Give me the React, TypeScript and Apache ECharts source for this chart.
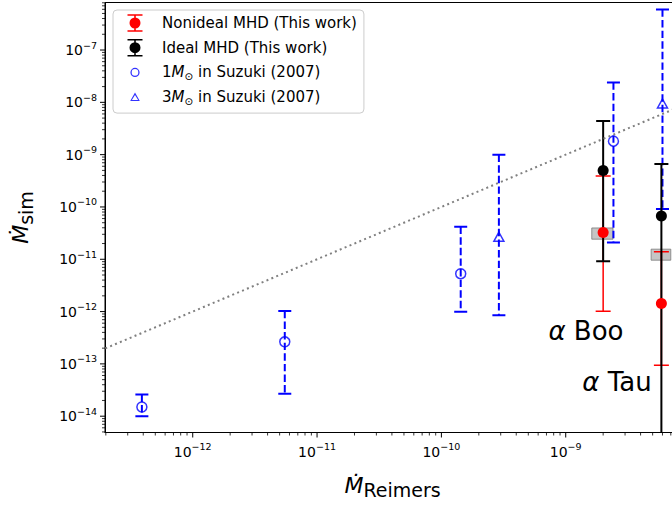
import React, { useEffect, useRef } from 'react';
import * as echarts from 'echarts';

const FONT = '"DejaVu Sans", sans-serif';

// axis ranges
const X_RANGE = [1.97e-13, 8.3e-9];
const Y_RANGE = [4.88e-15, 8.1e-7];

// Suzuki (2007), 1 Msun
const suzuki1X = [3.9e-13, 5.5e-12, 1.43e-10, 2.42e-9];
const suzuki1Y = [1.5e-14, 2.64e-13, 5.3e-12, 1.81e-9];
const suzuki1Lo = [1.0e-14, 2.7e-14, 9.9e-13, 2.1e-11];
const suzuki1Hi = [2.6e-14, 1.03e-12, 4.2e-11, 2.4e-8];

// Suzuki (2007), 3 Msun
const suzuki3X = [2.9e-10, 6.0e-9];
const suzuki3Y = [2.7e-11, 9.5e-9];
const suzuki3Lo = [8.5e-13, 9.1e-11];
const suzuki3Hi = [1.0e-9, 5.97e-7];

// This work
const starNames = ['Boo', 'Tau'];
const starX = [2.0e-9, 5.88e-9];
const idealY = [5.0e-10, 6.7e-11];
const idealLo = [9.2e-12, 1e-16];
const idealHi = [4.4e-9, 6.6e-10];
const nonidealY = [3.25e-11, 1.43e-12];
const nonidealLo = [1.02e-12, 9.4e-14];
const nonidealHi = [3.9e-10, 1.39e-11];

// grey boxes
const boxX0 = [1.62e-9, 4.86e-9];
const boxX1 = [2.4e-9, 7.0e-9];
const boxY0 = [2.42e-11, 9.6e-12];
const boxY1 = [3.97e-11, 1.56e-11];

// star label anchors (left, middle)
const labelX = [7.26e-10, 1.36e-9];
const labelY = [4.23e-13, 4.57e-14];

// 1:1 line
const oneToOne = [1e-14, 1e-6];

const N_NON = 'Nonideal MHD (This work)';
const N_IDEAL = 'Ideal MHD (This work)';
const N_S1 = '1Msun in Suzuki (2007)';
const N_S3 = '3Msun in Suzuki (2007)';

const LEGEND_TEXT: Record<string, string> = {
  [N_NON]: N_NON,
  [N_IDEAL]: N_IDEAL,
  [N_S1]: '{t|1}{i|M}{sub|⊙}{t| in Suzuki (2007)}',
  [N_S3]: '{t|3}{i|M}{sub|⊙}{t| in Suzuki (2007)}',
};

const ICON_ERR =
  'path://M0,0M44,18M14.5,0.3H29.5V1.8H14.5ZM14.5,16.2H29.5V17.7H14.5ZM21.2,0.3H22.8V17.7H21.2ZM27.5,9A5.5,5.5,0,1,1,16.5,9A5.5,5.5,0,1,1,27.5,9Z';
const ICON_CIRC =
  'path://M0,0M44,18M26.6,9A4.6,4.6,0,1,1,17.4,9A4.6,4.6,0,1,1,26.6,9ZM25.3,9A3.3,3.3,0,1,0,18.7,9A3.3,3.3,0,1,0,25.3,9Z';
const ICON_TRI =
  'path://M0,0M44,18M22,4.3L26.8,13L17.2,13ZM22,6.9L18.9,11.8L25.1,11.8Z';

function decadeTicks(range: number[]) {
  const major: number[] = [];
  const minor: number[] = [];
  const lo = Math.floor(Math.log10(range[0]));
  const hi = Math.ceil(Math.log10(range[1]));
  for (let e = lo; e <= hi; e++) {
    const base = Math.pow(10, e);
    if (base >= range[0] && base <= range[1]) major.push(base);
    for (let k = 2; k <= 9; k++) {
      const v = k * base;
      if (v >= range[0] && v <= range[1]) minor.push(v);
    }
  }
  return { major, minor };
}

function errRender(color: string, lw: number, capHalf: number, dash: number[] | null) {
  return (params: any, api: any) => {
    const x = api.value(0);
    const lo = api.value(1);
    const hi = api.value(2);
    const top = api.coord([x, hi]);
    const bot = api.coord([x, lo]);
    return {
      type: 'group',
      children: [
        {
          type: 'line',
          shape: { x1: top[0], y1: top[1], x2: bot[0], y2: bot[1] },
          style: { stroke: color, lineWidth: lw, lineDash: dash || undefined },
        },
        {
          type: 'line',
          shape: { x1: top[0] - capHalf, y1: top[1], x2: top[0] + capHalf, y2: top[1] },
          style: { stroke: color, lineWidth: lw },
        },
        {
          type: 'line',
          shape: { x1: bot[0] - capHalf, y1: bot[1], x2: bot[0] + capHalf, y2: bot[1] },
          style: { stroke: color, lineWidth: lw },
        },
      ],
    };
  };
}

function powLabel(v: number) {
  const l = Math.log10(v);
  const r = Math.round(l);
  if (Math.abs(l - r) > 1e-6) return '';
  return `{b|10}{s|${r < 0 ? '−' : ''}${Math.abs(r)}}`;
}

const tickRich = {
  b: { fontFamily: FONT, fontSize: 14, color: '#000' },
  s: { fontFamily: FONT, fontSize: 9.5, color: '#000', padding: [0, 0, 10, 0] },
};

const titleRich = {
  m: { fontFamily: FONT, fontSize: 22, fontStyle: 'italic', color: '#000' },
  s: { fontFamily: FONT, fontSize: 19, color: '#000', padding: [10, 0, 0, 0] },
};

const CHART_W = 690;
const CHART_H = 512;

export default function App() {
  const ref = useRef<HTMLDivElement>(null);
  useEffect(() => {
    if (!ref.current) return;
    const chart = echarts.init(ref.current, null, { renderer: 'svg' });

    const xt = decadeTicks(X_RANGE);
    const yt = decadeTicks(Y_RANGE);
    const tickData: any[] = [];
    xt.major.forEach((v) => tickData.push([v, Y_RANGE[0], 0]));
    xt.minor.forEach((v) => tickData.push([v, Y_RANGE[0], 1]));
    yt.major.forEach((v) => tickData.push([X_RANGE[0], v, 2]));
    yt.minor.forEach((v) => tickData.push([X_RANGE[0], v, 3]));

    const option: any = {
      animation: false,
      grid: {
        left: 105,
        top: 2.5,
        right: 10,
        bottom: 79.5,
        show: true,
        borderColor: '#000',
        borderWidth: 1,
        backgroundColor: 'transparent',
      },
      legend: {
        orient: 'vertical',
        left: 113,
        top: 10,
        itemWidth: 44,
        itemHeight: 18,
        itemGap: 6.7,
        padding: [4, 7, 7, 0],
        borderColor: '#cccccc',
        borderWidth: 1,
        borderRadius: 4,
        backgroundColor: 'rgba(255,255,255,0.8)',
        selectedMode: false,
        textStyle: {
          fontFamily: FONT,
          fontSize: 15,
          color: '#000',
          rich: {
            t: { fontFamily: FONT, fontSize: 15, color: '#000' },
            i: { fontFamily: FONT, fontSize: 15, color: '#000', fontStyle: 'italic' },
            sub: { fontFamily: FONT, fontSize: 10.5, color: '#000', padding: [7, 0, 0, 0] },
          },
        },
        formatter: (name: string) => LEGEND_TEXT[name] || name,
        data: [
          { name: N_NON, icon: ICON_ERR, itemStyle: { color: '#ff0000', borderWidth: 0 } },
          { name: N_IDEAL, icon: ICON_ERR, itemStyle: { color: '#000000', borderWidth: 0 } },
          { name: N_S1, icon: ICON_CIRC, itemStyle: { color: '#0000ff', borderWidth: 0 } },
          { name: N_S3, icon: ICON_TRI, itemStyle: { color: '#0000ff', borderWidth: 0 } },
        ],
      },
      xAxis: {
        type: 'log',
        logBase: 10,
        min: X_RANGE[0],
        max: X_RANGE[1],
        axisLine: { show: true, lineStyle: { color: '#000', width: 1 } },
        axisTick: { show: false },
        splitLine: { show: false },
        axisLabel: {
          margin: 9,
          formatter: powLabel,
          rich: tickRich,
        },
        name: '{m|Ṁ}{s|Reimers}',
        nameLocation: 'middle',
        nameGap: 38,
        nameTextStyle: { rich: titleRich },
      },
      yAxis: {
        type: 'log',
        logBase: 10,
        min: Y_RANGE[0],
        max: Y_RANGE[1],
        axisLine: { show: true, lineStyle: { color: '#000', width: 1 } },
        axisTick: { show: false },
        splitLine: { show: false },
        axisLabel: {
          margin: 8,
          formatter: powLabel,
          rich: tickRich,
        },
        name: '{m|Ṁ}{s|sim}',
        nameLocation: 'middle',
        nameRotate: 90,
        nameGap: 70,
        nameTextStyle: { rich: titleRich },
      },
      series: [
        {
          type: 'custom',
          name: 'boxes',
          clip: true,
          encode: { x: [0, 2], y: [1, 3] },
          data: boxX0.map((x0, i) => [x0, boxY0[i], boxX1[i], boxY1[i]]),
          renderItem: (params: any, api: any) => {
            const p0 = api.coord([api.value(0), api.value(3)]);
            const p1 = api.coord([api.value(2), api.value(1)]);
            return {
              type: 'rect',
              shape: { x: p0[0], y: p0[1], width: p1[0] - p0[0], height: p1[1] - p0[1] },
              style: { fill: 'rgba(150,150,150,0.55)', stroke: 'rgba(110,110,110,0.7)', lineWidth: 1 },
            };
          },
        },
        {
          type: 'line',
          name: 'one-to-one',
          data: oneToOne.map((v) => [v, v]),
          showSymbol: false,
          symbol: 'none',
          silent: true,
          clip: true,
          lineStyle: { color: '#808080', width: 2, type: [2, 3.3] },
        },
        {
          type: 'custom',
          name: 's1err',
          clip: true,
          encode: { x: 0, y: [1, 2] },
          data: suzuki1X.map((x, i) => [x, suzuki1Lo[i], suzuki1Hi[i]]),
          renderItem: errRender('#0000ff', 2, 6.5, [7.4, 3.2]),
        },
        {
          type: 'custom',
          name: 's3err',
          clip: true,
          encode: { x: 0, y: [1, 2] },
          data: suzuki3X.map((x, i) => [x, suzuki3Lo[i], suzuki3Hi[i]]),
          renderItem: errRender('#0000ff', 2, 6.5, [7.4, 3.2]),
        },
        {
          type: 'scatter',
          name: N_S1,
          symbol: 'circle',
          symbolSize: 10,
          itemStyle: { color: 'rgba(0,0,0,0)', borderColor: '#0000ff', borderWidth: 1.5 },
          data: suzuki1X.map((x, i) => [x, suzuki1Y[i]]),
        },
        {
          type: 'scatter',
          name: N_S3,
          symbol: 'triangle',
          symbolSize: [10, 9],
          itemStyle: { color: 'rgba(0,0,0,0)', borderColor: '#0000ff', borderWidth: 1.5 },
          data: suzuki3X.map((x, i) => [x, suzuki3Y[i]]),
        },
        {
          type: 'custom',
          name: 'nonerr',
          clip: true,
          encode: { x: 0, y: [1, 2] },
          data: starX.map((x, i) => [x, nonidealLo[i], nonidealHi[i]]),
          renderItem: errRender('#ff0000', 1.5, 7.5, null),
        },
        {
          type: 'custom',
          name: 'idealerr',
          clip: true,
          encode: { x: 0, y: [1, 2] },
          data: starX.map((x, i) => [x, idealLo[i], idealHi[i]]),
          renderItem: errRender('#000000', 2, 7, null),
        },
        {
          type: 'scatter',
          name: N_IDEAL,
          symbol: 'circle',
          symbolSize: 11,
          itemStyle: { color: '#000000', opacity: 1 },
          data: starX.map((x, i) => [x, idealY[i]]),
        },
        {
          type: 'scatter',
          name: N_NON,
          symbol: 'circle',
          symbolSize: 11,
          itemStyle: { color: '#ff0000', opacity: 1 },
          data: starX.map((x, i) => [x, nonidealY[i]]),
        },
        {
          type: 'scatter',
          name: 'labels',
          symbolSize: 0,
          silent: true,
          data: labelX.map((x, i) => ({ value: [x, labelY[i]], name: starNames[i] })),
          label: {
            show: true,
            position: 'right',
            distance: 0,
            color: '#000',
            opacity: 1,
            formatter: (p: any) => `{a|α}{b| ${p.name}}`,
            rich: {
              a: { fontFamily: FONT, fontSize: 26, fontStyle: 'italic', color: '#000' },
              b: { fontFamily: FONT, fontSize: 26, color: '#000' },
            },
          },
        },
        {
          type: 'custom',
          name: 'ticks',
          clip: false,
          silent: true,
          encode: { x: 0, y: 1 },
          data: tickData,
          renderItem: (params: any, api: any) => {
            const kind = api.value(2);
            const p = api.coord([api.value(0), api.value(1)]);
            const len = kind === 0 || kind === 2 ? 5 : 3;
            const w = kind === 0 || kind === 2 ? 1 : 0.8;
            if (kind <= 1) {
              return {
                type: 'line',
                shape: { x1: p[0], y1: p[1], x2: p[0], y2: p[1] + len },
                style: { stroke: '#000', lineWidth: w },
              };
            }
            return {
              type: 'line',
              shape: { x1: p[0], y1: p[1], x2: p[0] - len, y2: p[1] },
              style: { stroke: '#000', lineWidth: w },
            };
          },
        },
      ],
    };
    chart.setOption(option);
    return () => chart.dispose();
  }, []);
  return (
    <div
      style={{
        position: 'absolute',
        left: 0,
        top: 0,
        width: 672,
        height: 512,
        overflow: 'hidden',
        background: '#fff',
      }}
    >
      <div ref={ref} style={{ width: CHART_W, height: CHART_H }} />
    </div>
  );
}
